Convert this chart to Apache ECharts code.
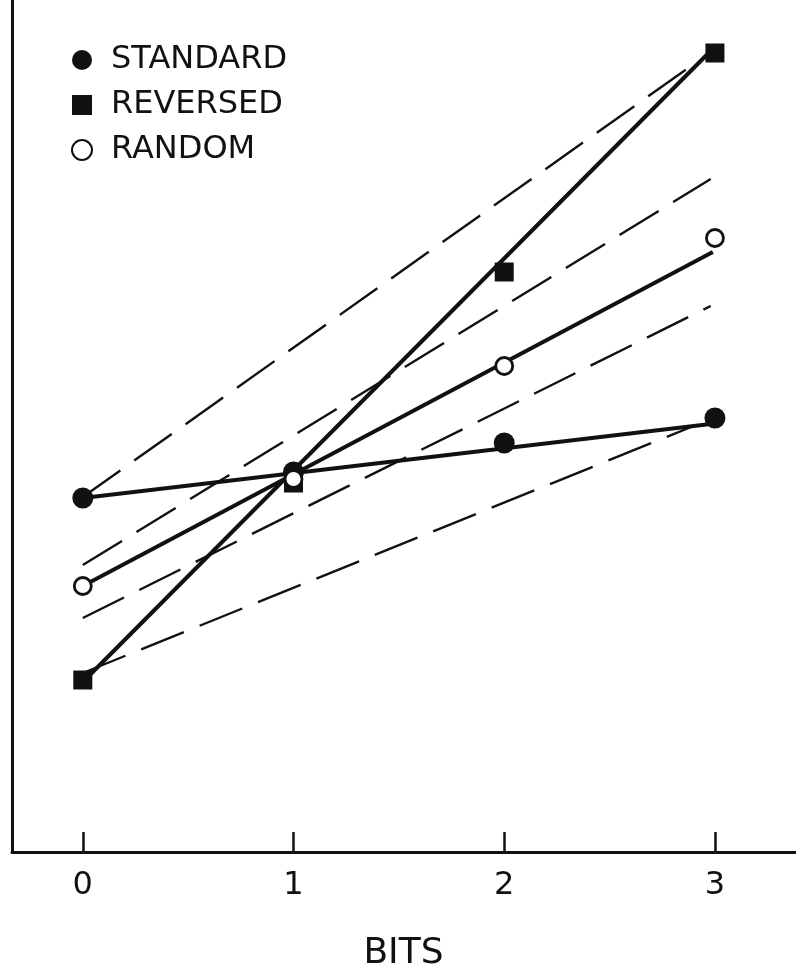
<!DOCTYPE html>
<html>
<head>
<meta charset="utf-8">
<script src="https://cdn.jsdelivr.net/npm/echarts@6/dist/echarts.min.js"></script>
<style>
html,body{margin:0;padding:0;background:#fff;}
#chart{width:796px;height:974px;}
</style>
</head>
<body>
<div id="chart"></div>
<script>
// x categories (bits)
var bits = [0, 1, 2, 3];
var tickLabels = ['0', '1', '2', '3'];
// observed points (arbitrary vertical units, axis unlabelled)
var standard = [35.4, 38.0, 40.9, 43.4];
var reversed = [17.2, 36.9, 58.0, 79.9];
var random = [26.6, 37.3, 48.6, 61.4];
// solid fitted lines: [x, y] at start and end
var fitStandard = [[0, 35.4], [2.98, 42.8]];
var fitReversed = [[0, 17.0], [2.97, 79.9]];
var fitRandom = [[0, 26.6], [2.99, 60.0]];
// dashed reference lines
var dashA = [[0, 35.5], [2.92, 79.1]];
var dashB = [[0, 28.7], [2.98, 67.3]];
var dashC = [[0, 23.4], [2.98, 54.6]];
var dashD = [[0, 17.9], [2.91, 42.7]];
var names = ['STANDARD', 'REVERSED', 'RANDOM'];

var INK = '#111';
function pts(vals) { return bits.map(function (b, i) { return [b, vals[i]]; }); }
function lineSeries(data, dashed) {
  return {
    type: 'line', data: data, symbol: 'none', silent: true, z: dashed ? 1 : 2,
    lineStyle: dashed ? { color: INK, width: 2.4, type: [46, 17] } : { color: INK, width: 4 }
  };
}

var chart = echarts.init(document.getElementById('chart'), null, { renderer: 'canvas' });
chart.setOption({
  animation: false,
  backgroundColor: '#fff',
  grid: { left: 12, right: 1, top: 0, bottom: 122, containLabel: false, outerBoundsMode: 'none' },
  legend: {
    data: [
      { name: names[0], icon: 'circle' },
      { name: names[1], icon: 'rect' },
      { name: names[2], icon: 'circle' }
    ],
    orient: 'vertical', left: 66, top: 39,
    itemWidth: 20, itemHeight: 20, itemGap: 13,
    selectedMode: false,
    textStyle: { fontFamily: 'DejaVu Sans', fontSize: 32, color: INK, padding: [0, 0, 0, 14] }
  },
  xAxis: {
    type: 'value', min: -0.336, max: 3.38,
    splitLine: { show: false },
    axisLine: { show: true, onZero: false, lineStyle: { color: INK, width: 3 } },
    axisTick: { show: true, inside: true, length: 20, customValues: bits, lineStyle: { color: INK, width: 2.5 } },
    axisLabel: {
      customValues: bits, margin: 18, color: INK, fontFamily: 'DejaVu Sans', fontSize: 32,
      formatter: function (v) { return tickLabels[bits.indexOf(v)]; }
    },
    name: 'BITS', nameLocation: 'middle', nameGap: 84,
    nameTextStyle: { fontFamily: 'DejaVu Sans', fontSize: 36, color: INK }
  },
  yAxis: {
    type: 'value', min: 0, max: 85.2,
    splitLine: { show: false },
    axisLine: { show: true, onZero: false, lineStyle: { color: INK, width: 3 } },
    axisTick: { show: false },
    axisLabel: { show: false }
  },
  series: [
    lineSeries(dashA, true), lineSeries(dashB, true), lineSeries(dashC, true), lineSeries(dashD, true),
    lineSeries(fitStandard, false), lineSeries(fitReversed, false), lineSeries(fitRandom, false),
    { name: names[0], type: 'scatter', data: pts(standard), symbol: 'circle', symbolSize: 21, z: 5,
      itemStyle: { color: INK, opacity: 1 } },
    { name: names[1], type: 'scatter', data: pts(reversed), symbol: 'rect', symbolSize: 19, z: 6,
      itemStyle: { color: INK, opacity: 1 } },
    { name: names[2], type: 'scatter', data: pts(random), symbol: 'circle', symbolSize: 17, z: 7,
      itemStyle: { color: '#fff', borderColor: INK, borderWidth: 2.8, opacity: 1 } }
  ]
});
</script>
</body>
</html>
